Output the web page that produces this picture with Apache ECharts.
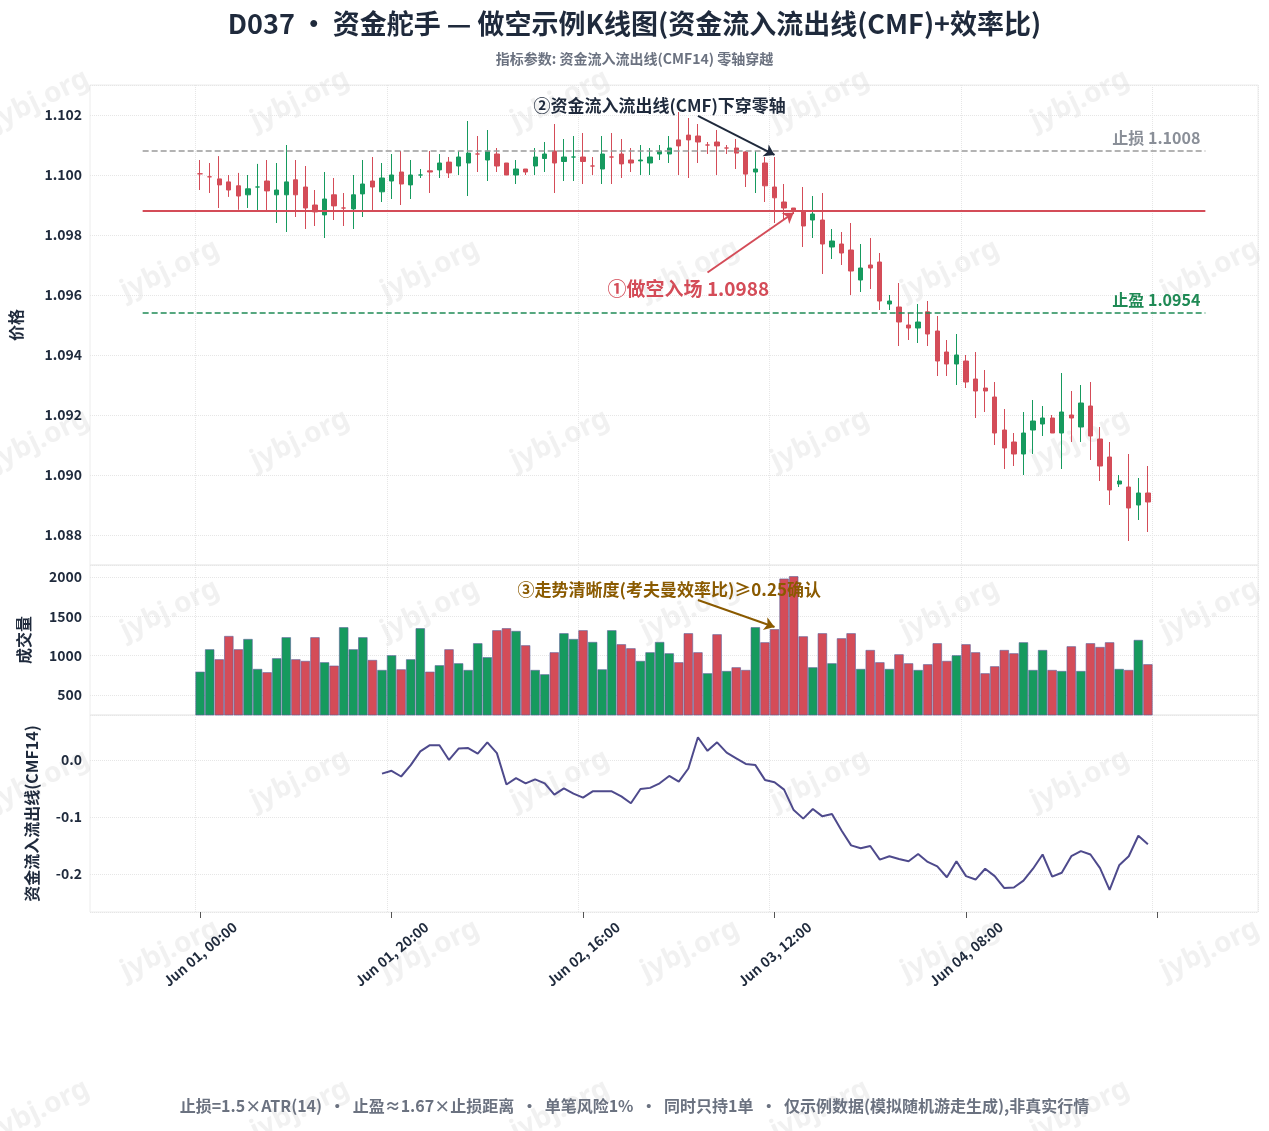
<!DOCTYPE html>
<html>
<head>
<meta charset="utf-8">
<script src="https://cdn.jsdelivr.net/npm/echarts@6/dist/echarts.min.js"></script>
<style>
html,body{margin:0;padding:0;background:#fff;}
#main{width:1269px;height:1131px;}
</style>
</head>
<body>
<div id="main"></div>
<script>
// 小时序号 0..99 (Jun 01 00:00 起, 每根1小时)
var openArr=[1.10004,1.09994,1.09987,1.09977,1.09964,1.09934,1.0996,1.0998,1.09934,1.09934,
1.09984,1.0996,1.0990,1.09867,1.09934,1.0989,1.09887,1.09937,1.0998,1.09944,
1.0998,1.1001,1.09967,1.1000,1.10014,1.10017,1.10043,1.1003,1.1004,1.1007,
1.1005,1.1007,1.1004,1.1000,1.1002,1.1003,1.10055,1.1008,1.10045,1.1006,
1.1006,1.1003,1.1002,1.1006,1.1007,1.1005,1.10047,1.1004,1.1007,1.1007,
1.10117,1.10133,1.1013,1.1010,1.1011,1.1009,1.1009,1.10077,1.1001,1.1004,
1.0996,1.0991,1.0989,1.0988,1.0985,1.0985,1.0976,1.0977,1.0975,1.0965,
1.0970,1.0971,1.0957,1.0956,1.0950,1.0949,1.09544,1.0948,1.0941,1.0937,
1.0938,1.0932,1.0929,1.0926,1.0915,1.0911,1.0907,1.0915,1.0917,1.0919,
1.0914,1.0920,1.0916,1.0923,1.0912,1.0906,1.0897,1.0896,1.0890,1.0894];
var closeArr=[1.10004,1.09994,1.09967,1.0995,1.0993,1.09954,1.0996,1.09947,1.0995,1.09977,
1.09934,1.0989,1.09877,1.0992,1.09897,1.0989,1.09934,1.0997,1.0996,1.0999,
1.1000,1.0997,1.1000,1.1000,1.1001,1.1004,1.10007,1.1006,1.10073,1.1007,
1.1008,1.1003,1.1000,1.1002,1.1001,1.1006,1.1007,1.1004,1.1006,1.1006,
1.10045,1.1003,1.1007,1.1006,1.10037,1.1004,1.1005,1.1006,1.1008,1.1009,
1.10097,1.10117,1.1011,1.1010,1.10097,1.1009,1.10073,1.10003,1.1002,1.09964,
1.09924,1.0989,1.0988,1.0983,1.0987,1.0977,1.0978,1.0974,1.0968,1.0969,
1.0969,1.0958,1.0958,1.0951,1.0949,1.0951,1.0947,1.0938,1.0937,1.0940,
1.0931,1.0928,1.0928,1.0914,1.0909,1.0907,1.0914,1.0918,1.0919,1.0914,
1.0921,1.0919,1.0924,1.0913,1.0903,1.0895,1.0898,1.0889,1.0894,1.0891];
var lowArr=[1.0995,1.0994,1.0989,1.09927,1.09884,1.0989,1.0988,1.0988,1.0984,1.0981,
1.0986,1.0982,1.0983,1.0979,1.0985,1.0983,1.0982,1.0986,1.0988,1.0991,
1.0992,1.0990,1.0992,1.0999,1.0994,1.0999,1.0999,1.1000,1.0993,1.1001,
1.0998,1.1001,1.1000,1.0997,1.1000,1.1000,1.1001,1.0994,1.0998,1.0998,
1.0997,1.1000,1.0997,1.0997,1.0999,1.1001,1.1000,1.1000,1.1005,1.1004,
1.1000,1.0999,1.1004,1.1007,1.1000,1.1007,1.1002,1.0996,1.0994,1.0991,
1.0984,1.0985,1.0987,1.0976,1.0979,1.0967,1.0972,1.0970,1.0960,1.0961,
1.0962,1.0955,1.0955,1.0943,1.0945,1.0944,1.0943,1.0933,1.0933,1.0930,
1.0929,1.0919,1.0921,1.0910,1.0902,1.0903,1.0900,1.0907,1.0913,1.0914,
1.0902,1.0911,1.0911,1.0905,1.0898,1.0890,1.0896,1.0878,1.0885,1.0881];
var highArr=[1.1005,1.1004,1.10063,1.1000,1.10007,1.1000,1.10037,1.1005,1.1004,1.1010,
1.1005,1.1003,1.0995,1.1001,1.0999,1.0994,1.1000,1.1005,1.1006,1.1004,
1.1007,1.1008,1.1005,1.1002,1.1008,1.1007,1.1006,1.1008,1.1018,1.1013,
1.1015,1.1009,1.1004,1.1005,1.1002,1.1009,1.1011,1.1017,1.1012,1.1013,
1.1014,1.1006,1.1013,1.1014,1.1012,1.1009,1.1010,1.1009,1.1010,1.1013,
1.1021,1.1019,1.1017,1.1011,1.1015,1.1010,1.1012,1.1008,1.1008,1.1006,
1.1006,1.0997,1.0989,1.0996,1.0993,1.0994,1.0982,1.0981,1.0984,1.0977,
1.0979,1.0974,1.0960,1.0964,1.0954,1.0957,1.0958,1.0953,1.0945,1.0947,
1.0940,1.0941,1.0935,1.0931,1.0922,1.0914,1.0921,1.0925,1.0923,1.0920,
1.0934,1.0928,1.0930,1.0931,1.0916,1.0911,1.0900,1.0907,1.0899,1.0903];
var volArr=[796,1081,954,1250,1081,1212,831,789,967,1234,
954,933,1234,916,873,1361,1081,1234,945,818,
1005,826,954,1348,796,878,1081,903,818,1158,
980,1323,1348,1314,1132,818,763,1043,1285,1212,
1323,1174,826,1323,1145,1094,933,1043,1174,1030,
916,1285,1043,776,1272,805,852,818,1361,1170,
1336,1980,2010,1246,852,1285,903,1221,1285,831,
1072,916,831,1017,903,818,891,1158,933,1005,
1145,1043,776,865,1072,1030,1170,818,1072,818,
805,1119,805,1158,1110,1170,831,818,1200,891];
// CMF14 从第19根开始有值
var cmfStart=19;
var cmfArr=[-0.024,-0.019,-0.029,-0.009,0.015,0.026,0.026,0.0,0.020,0.021,
0.011,0.031,0.012,-0.043,-0.032,-0.041,-0.034,-0.041,-0.061,-0.050,
-0.059,-0.066,-0.055,-0.055,-0.055,-0.064,-0.076,-0.051,-0.049,-0.041,
-0.028,-0.038,-0.015,0.040,0.016,0.031,0.013,0.003,-0.007,-0.009,
-0.035,-0.039,-0.052,-0.088,-0.103,-0.086,-0.099,-0.095,-0.124,-0.150,
-0.155,-0.151,-0.175,-0.169,-0.174,-0.178,-0.165,-0.179,-0.187,-0.206,
-0.178,-0.204,-0.210,-0.191,-0.204,-0.225,-0.224,-0.212,-0.191,-0.166,
-0.205,-0.198,-0.169,-0.160,-0.166,-0.190,-0.228,-0.185,-0.169,-0.133,-0.148];
var tickLabels={0:'Jun 01, 00:00',20:'Jun 01, 20:00',40:'Jun 02, 16:00',60:'Jun 03, 12:00',80:'Jun 04, 08:00'};
var stopLoss=1.1008, takeProfit=1.0954, entryPrice=1.0988;

var RED='#d44c58', GREEN='#169a5e', DARK='#1f2a3c';
var padL=11, padR=11, N=openArr.length;
var cats=[];
for(var h=-padL;h<N+padR;h++){cats.push(String(h));}
function hIdx(h){return h+padL;}

var kData=[],vData=[],cData=[];
for(var i=0;i<cats.length;i++){
    var k=i-padL;
    if(k>=0&&k<N){
        kData.push([openArr[k],closeArr[k],lowArr[k],highArr[k]]);
        var up=closeArr[k]>=openArr[k];
        vData.push({value:volArr[k],itemStyle:{color:up?GREEN:RED}});
        cData.push(k>=cmfStart?cmfArr[k-cmfStart]:null);
    }else{
        kData.push('-');vData.push('-');cData.push(null);
    }
}

function isTick(idx){var h=idx-padL;return h>=0&&h<=100&&h%20==0;}
function isLabel(idx){var h=idx-padL;return tickLabels[h]!==undefined;}

var splitX={show:true,interval:function(i){return isTick(i);},lineStyle:{color:'#e6e6e6',type:'dotted'}};
var splitY={show:true,lineStyle:{color:'#e6e6e6',type:'dotted'}};
var yLabel={color:DARK,fontWeight:'bold',fontSize:14,fontFamily:'Noto Sans CJK SC'};
var nameStyle={color:DARK,fontWeight:'bold',fontSize:16,fontFamily:'Noto Sans CJK SC'};

function xAxisOf(g,show){
    return {type:'category',gridIndex:g,data:cats,boundaryGap:true,
        axisLine:{show:false,onZero:false},
        axisTick:{show:show,interval:function(i){return isTick(i);},alignWithLabel:true,length:6,lineStyle:{color:'#555'}},
        axisLabel:{show:show,interval:function(i){return isLabel(i);},rotate:40,color:DARK,fontWeight:'bold',fontSize:14,
            fontFamily:'Noto Sans CJK SC',margin:42,align:'center',verticalAlign:'middle',
            formatter:function(v){return tickLabels[Number(v)]||'';}},
        splitLine:splitX};
}

// 水印
var wm=[];
var wmRows=[100,270,440,610,780,950,1110];
for(var r=0;r<wmRows.length;r++){
    for(var c=0;c<6;c++){
        var x=(r%2==0?40:170)+c*260;
        wm.push({type:'text',x:x,y:wmRows[r],rotation:Math.PI/7,z:0,
            style:{text:'jybj.org',fill:'rgba(120,120,120,0.10)',font:'bold 28px Noto Sans',align:'center',verticalAlign:'middle'}});
    }
}
wm.push({type:'text',left:'center',top:1098,style:{text:'止损=1.5×ATR(14)  ·  止盈≈1.67×止损距离  ·  单笔风险1%  ·  同时只持1单  ·  仅示例数据(模拟随机游走生成),非真实行情',
    fill:'#6b7280',font:'bold 16px Noto Sans CJK SC'}});

var option={
    backgroundColor:'#fff',
    animation:false,
    title:[
        {text:'D037\u2009·\u2009资金舵手 — 做空示例K线图(资金流入流出线(CMF)+效率比)',left:'center',top:5,
            textStyle:{color:DARK,fontSize:27,fontWeight:'bold',fontFamily:'Noto Sans CJK SC'}},
        {text:'指标参数: 资金流入流出线(CMF14) 零轴穿越',left:'center',top:47,
            textStyle:{color:'#6b7280',fontSize:14,fontWeight:'bold',fontFamily:'Noto Sans CJK SC'}}
    ],
    grid:[
        {left:90,right:11,top:85,height:480,show:true,borderColor:'#ececec',borderWidth:1},
        {left:90,right:11,top:565,height:150,show:true,borderColor:'#ececec',borderWidth:1},
        {left:90,right:11,top:715,height:197,show:true,borderColor:'#ececec',borderWidth:1}
    ],
    xAxis:[xAxisOf(0,false),xAxisOf(1,false),xAxisOf(2,true)],
    yAxis:[
        {gridIndex:0,scale:true,min:1.087,max:1.103,splitNumber:8,name:'价格',nameLocation:'middle',nameGap:66,nameTextStyle:nameStyle,
            axisLine:{show:false},axisTick:{show:false},splitLine:splitY,
            axisLabel:Object.assign({showMinLabel:false,showMaxLabel:false,formatter:function(v){return v.toFixed(3);}},yLabel)},
        {gridIndex:1,min:246,max:2153,splitNumber:4,name:'成交量',nameLocation:'middle',nameGap:58,nameTextStyle:nameStyle,
            axisLine:{show:false},axisTick:{show:false},splitLine:splitY,
            axisLabel:Object.assign({showMinLabel:false,showMaxLabel:false,formatter:function(v){return String(v);}},yLabel)},
        {gridIndex:2,min:-0.267,max:0.079,splitNumber:4,name:'资金流入流出线(CMF14)',nameLocation:'middle',nameGap:50,nameTextStyle:nameStyle,
            axisLine:{show:false},axisTick:{show:false},splitLine:splitY,
            axisLabel:Object.assign({showMinLabel:false,showMaxLabel:false,formatter:function(v){return v.toFixed(1);}},yLabel)}
    ],
    series:[
        {type:'candlestick',xAxisIndex:0,yAxisIndex:0,data:kData,barMaxWidth:7,
            itemStyle:{color:GREEN,color0:RED,borderColor:GREEN,borderColor0:RED,borderWidth:1},
            markLine:{silent:true,symbol:'none',animation:false,data:[
                [{coord:[hIdx(-6),stopLoss],lineStyle:{color:'#9a9a9a',type:'dashed',width:1.5},
                    label:{show:true,position:'insideEndTop',formatter:'止损 '+stopLoss.toFixed(4),color:'#8a8f98',fontWeight:'bold',fontSize:16,fontFamily:'Noto Sans CJK SC'}},
                 {coord:[hIdx(105),stopLoss]}],
                [{coord:[hIdx(-6),entryPrice],lineStyle:{color:RED,type:'solid',width:2},label:{show:false}},
                 {coord:[hIdx(105),entryPrice]}],
                [{coord:[hIdx(-6),takeProfit],lineStyle:{color:'#1f8a55',type:'dashed',width:1.5},
                    label:{show:true,position:'insideEndTop',formatter:'止盈 '+takeProfit.toFixed(4),color:'#1f8a55',fontWeight:'bold',fontSize:16,fontFamily:'Noto Sans CJK SC'}},
                 {coord:[hIdx(105),takeProfit]}],
                [{coord:[hIdx(53),1.09675],lineStyle:{color:RED,type:'solid',width:2},symbol:'none',
                    label:{show:false}},
                 {coord:[hIdx(62),1.09874],symbol:'arrow',symbolSize:10}],
                [{coord:[hIdx(52),1.10197],lineStyle:{color:DARK,type:'solid',width:2},symbol:'none',label:{show:false}},
                 {coord:[hIdx(60),1.10067],symbol:'arrow',symbolSize:10}]
            ]},
            markPoint:{silent:true,symbol:'circle',symbolSize:0,data:[
                {coord:[hIdx(51),1.09622],label:{show:true,formatter:'①做空入场 1.0988',color:RED,fontWeight:'bold',fontSize:19,fontFamily:'Noto Sans CJK SC'}},
                {coord:[hIdx(48),1.10233],label:{show:true,formatter:'②资金流入流出线(CMF)下穿零轴',color:DARK,fontWeight:'bold',fontSize:17,fontFamily:'Noto Sans CJK SC'}}
            ]}
        },
        {type:'bar',xAxisIndex:1,yAxisIndex:1,data:vData,barCategoryGap:'3%',
            itemStyle:{borderColor:'#5a5f9a',borderWidth:0.6},
            markLine:{silent:true,animation:false,data:[
                [{coord:[hIdx(52),1708],lineStyle:{color:'#8a5a00',type:'solid',width:2},symbol:'none',label:{show:false}},
                 {coord:[hIdx(60),1365],symbol:'arrow',symbolSize:10}]
            ]},
            markPoint:{silent:true,symbol:'circle',symbolSize:0,data:[
                {coord:[hIdx(49),1840],label:{show:true,formatter:'③走势清晰度(考夫曼效率比)≥0.25确认',color:'#8a5a00',fontWeight:'bold',fontSize:17,fontFamily:'Noto Sans CJK SC'}}
            ]}
        },
        {type:'line',xAxisIndex:2,yAxisIndex:2,data:cData,showSymbol:false,connectNulls:false,
            lineStyle:{color:'#4e4a8c',width:2}}
    ],
    graphic:wm
};

var myChart=echarts.init(document.getElementById('main'));
myChart.setOption(option);
</script>
</body>
</html>
